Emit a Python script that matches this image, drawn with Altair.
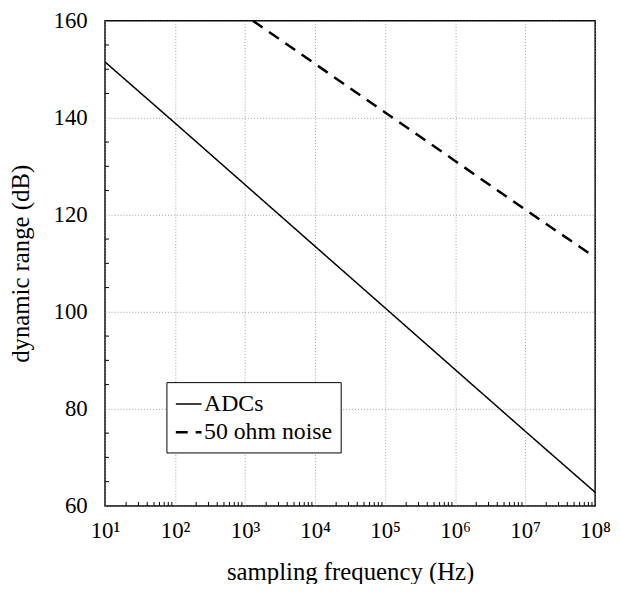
import altair as alt
import pandas as pd

# ---- data ----
adc_freq = [1e1, 1e2, 1e3, 1e4, 1e5, 1e6, 1e7, 1e8]
adc_db = [151.5, 138.9, 126.2, 113.5, 100.8, 88.1, 75.4, 62.8]

noise_freq = [1.29e3, 1e4, 1e5, 1e6, 1e7, 1e8]
noise_db = [160.0, 151.1, 141.1, 131.1, 121.1, 111.2]

series_names = ["ADCs", "50 ohm noise"]

x_tick_values = [1e1, 1e2, 1e3, 1e4, 1e5, 1e6, 1e7, 1e8]
x_tick_labels = ["10¹", "10²", "10³", "10⁴", "10⁵", "10⁶", "10⁷", "10⁸"]
y_tick_values = [60, 80, 100, 120, 140, 160]

x_minor = [k * 10 ** d for d in range(1, 8) for k in range(2, 10)]
y_minor = [v for v in range(65, 160, 5) if v % 20 != 0]

FONT = "Liberation Serif"
W, H = 495, 490

df = pd.concat([
    pd.DataFrame({"freq": adc_freq, "db": adc_db, "series": series_names[0]}),
    pd.DataFrame({"freq": noise_freq, "db": noise_db, "series": series_names[1]}),
])

label_array = "[" + ",".join('"%s"' % s for s in x_tick_labels) + "]"
label_expr = label_array + "[round(log(datum.value)/LN10) - 1]"

xscale = alt.Scale(type="log", domain=[1e1, 1e8])
yscale = alt.Scale(domain=[60, 160])

xaxis = alt.Axis(values=x_tick_values, labelExpr=label_expr,
                 grid=True, ticks=False, tickSize=0, domain=False,
                 labelFlush=False, labelPadding=14, titlePadding=17)
yaxis = alt.Axis(values=y_tick_values, grid=True, ticks=False,
                 tickSize=0, domain=False, labelFlush=False,
                 labelPadding=18, titlePadding=20)
XT = "sampling frequency (Hz)"
YT = "dynamic range (dB)"

legend = alt.Legend(
    title=None, orient="none", legendX=62, legendY=365,
    fillColor="white", strokeColor="black", padding=8,
    labelFont=FONT, labelFontSize=24, labelColor="black", labelOffset=1,
    symbolType="stroke", symbolSize=676, symbolStrokeColor="black",
    rowPadding=2,
)

lines = alt.Chart(df).mark_line(color="black", clip=True).encode(
    x=alt.X("freq:Q", scale=xscale, title=XT, axis=xaxis),
    y=alt.Y("db:Q", scale=yscale, title=YT, axis=yaxis),
    strokeDash=alt.StrokeDash("series:N",
                              scale=alt.Scale(domain=series_names, range=[[1, 0], [12, 8]]),
                              legend=legend),
    strokeWidth=alt.StrokeWidth("series:N",
                                scale=alt.Scale(domain=series_names, range=[1.5, 2.5]),
                                legend=legend),
)

xminor_df = pd.DataFrame({"freq": x_minor})
yminor_df = pd.DataFrame({"db": y_minor})

xticks = alt.Chart(xminor_df).mark_rule(color="black", strokeWidth=1).encode(
    x=alt.X("freq:Q", scale=xscale, title=XT, axis=xaxis),
    y=alt.value(H),
    y2=alt.value(H - 4),
)
yticks = alt.Chart(yminor_df).mark_rule(color="black", strokeWidth=1).encode(
    y=alt.Y("db:Q", scale=yscale, title=YT, axis=yaxis),
    x=alt.value(0),
    x2=alt.value(4),
)

chart = alt.layer(lines, xticks, yticks).properties(
    width=W, height=H,
    autosize=alt.AutoSizeParams(type="none"),
    padding={"left": 98, "top": 10, "right": 17, "bottom": 76},
    background="white",
).configure_view(
    stroke="black", strokeWidth=1.5
).configure_axis(
    labelFont=FONT, titleFont=FONT, labelFontSize=23, titleFontSize=25,
    labelColor="black", titleColor="black", titleFontWeight="normal",
    gridColor="#8a8a8a", gridDash=[1, 2], gridWidth=0.8,
)

chart.save("out.html", embed_options={"renderer": "svg", "actions": False})
